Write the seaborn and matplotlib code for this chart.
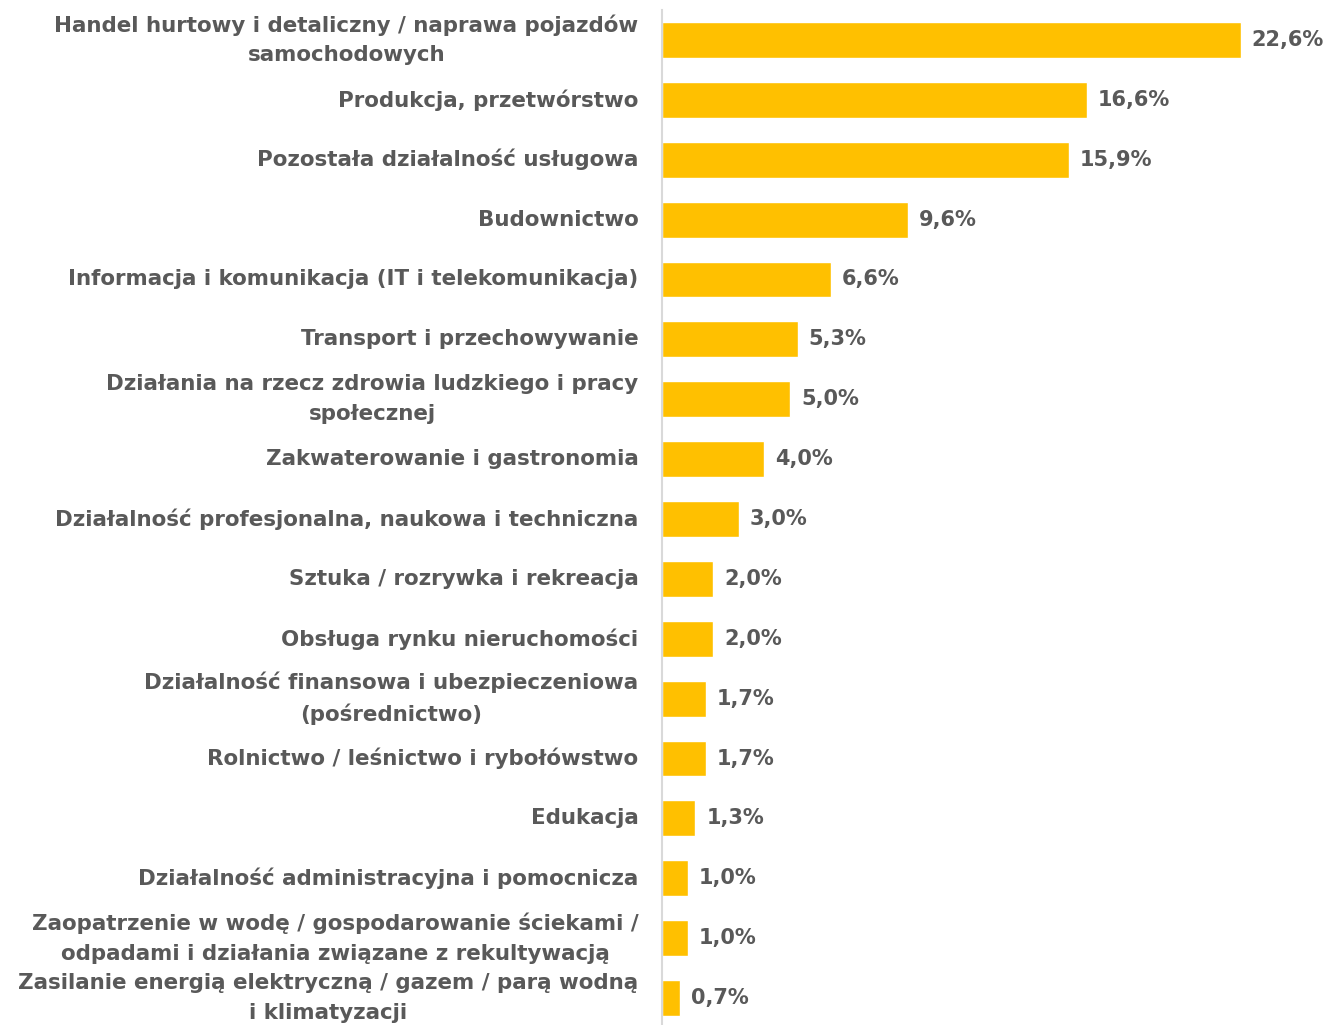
import matplotlib
matplotlib.use("Agg")
import matplotlib.pyplot as plt
import seaborn as sns
import pandas as pd

# ===============================
# DANE
# ===============================

categories = [
    "Handel hurtowy i detaliczny / naprawa pojazdów\nsamochodowych",
    "Produkcja, przetwórstwo",
    "Pozostała działalność usługowa",
    "Budownictwo",
    "Informacja i komunikacja (IT i telekomunikacja)",
    "Transport i przechowywanie",
    "Działania na rzecz zdrowia ludzkiego i pracy\nspołecznej",
    "Zakwaterowanie i gastronomia",
    "Działalność profesjonalna, naukowa i techniczna",
    "Sztuka / rozrywka i rekreacja",
    "Obsługa rynku nieruchomości",
    "Działalność finansowa i ubezpieczeniowa\n(pośrednictwo)",
    "Rolnictwo / leśnictwo i rybołówstwo",
    "Edukacja",
    "Działalność administracyjna i pomocnicza",
    "Zaopatrzenie w wodę / gospodarowanie ściekami /\nodpadami i działania związane z rekultywacją",
    "Zasilanie energią elektryczną / gazem / parą wodną\ni klimatyzacji",
]

values = [22.6, 16.6, 15.9, 9.6, 6.6, 5.3, 5.0, 4.0, 3.0, 2.0, 2.0, 1.7, 1.7, 1.3, 1.0, 1.0, 0.7]

df = pd.DataFrame({"kategoria": categories, "udzial": values})

# ===============================
# WYKRES
# ===============================

sns.set_style("white")
plt.rcParams["font.family"] = ["DejaVu Sans"]

text_color = "#595959"

fig = plt.figure(figsize=(13.25, 10.25), dpi=100)
ax = fig.add_axes([662 / 1325, 0.0, 1 - 662 / 1325, 1 - 10 / 1025])

sns.barplot(
    data=df,
    x="udzial",
    y="kategoria",
    color="#FFC000",
    saturation=1,
    width=0.6,
    ax=ax
)

ax.set_xlim(0, 25.9)
ax.set_ylim(16.45, -0.5)

for i, v in enumerate(values):
    ax.annotate(
        f"{v:.1f}%".replace(".", ","),
        xy=(v, i),
        xytext=(8, 0),
        textcoords="offset points",
        va="center",
        ha="left",
        fontsize=15,
        fontweight="bold",
        color=text_color
    )

ax.set_xlabel("")
ax.set_ylabel("")
ax.set_xticks([])
ax.tick_params(axis="y", length=0, pad=17)

for label in ax.get_yticklabels():
    label.set_fontsize(15.4)
    label.set_fontweight("bold")
    label.set_color(text_color)
    label.set_linespacing(1.6)
    label.set_horizontalalignment("right")
    label.set_verticalalignment("center")
    label.set_multialignment("center")

for side in ["top", "right", "bottom"]:
    ax.spines[side].set_visible(False)

ax.spines["left"].set_color("#D9D9D9")
ax.spines["left"].set_linewidth(1.5)

fig.savefig("out.png", dpi=100)
